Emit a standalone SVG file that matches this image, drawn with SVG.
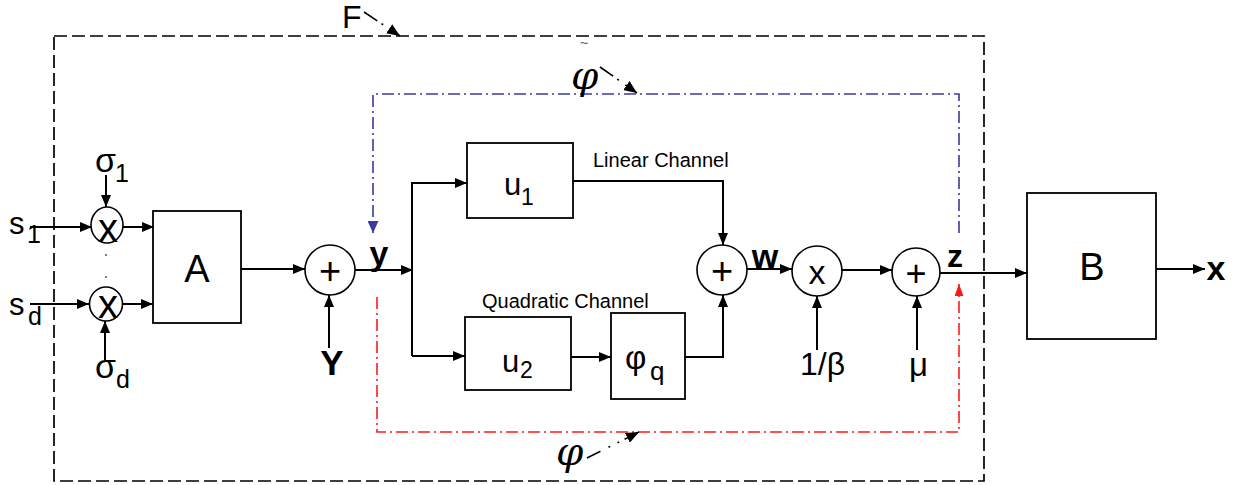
<svg xmlns="http://www.w3.org/2000/svg" width="1240" height="485" viewBox="0 0 1240 485">
<style>
.bx{fill:#fff;stroke:#000;stroke-width:1.8}
.cr{fill:#fff;stroke:#000;stroke-width:1.6}
.ln{fill:none;stroke:#000;stroke-width:2}
.t{font-family:"Liberation Sans",Arial,sans-serif;fill:#000}
.b{font-weight:bold}
.g{font-family:"DejaVu Serif","Liberation Serif",serif;font-style:italic;fill:#000}
.ld{fill:none;stroke:#000;stroke-width:1.6}
</style>
<defs>
<marker id="ah" viewBox="0 0 12 10" refX="12" refY="5" markerWidth="12" markerHeight="10" markerUnits="userSpaceOnUse" orient="auto"><path d="M0,0 L12,5 L0,10 z" fill="#000"/></marker>
<marker id="ahs" viewBox="0 0 13 11" refX="13" refY="5.5" markerWidth="13" markerHeight="11" markerUnits="userSpaceOnUse" orient="auto"><path d="M0,0 L13,5.5 L0,11 z" fill="#000"/></marker>
<marker id="ahb" viewBox="0 0 12 11" refX="12" refY="5.5" markerWidth="12" markerHeight="11" markerUnits="userSpaceOnUse" orient="auto"><path d="M0,0 L12,5.5 L0,11 z" fill="#3a3aa0"/></marker>
<marker id="ahr" viewBox="0 0 12 9" refX="12" refY="4.5" markerWidth="12" markerHeight="9" markerUnits="userSpaceOnUse" orient="auto"><path d="M0,0 L12,4.5 L0,9 z" fill="#ff1a1a"/></marker>
</defs>
<rect width="1240" height="485" fill="#fff"/>

<g id="frameF">
<rect x="54" y="36" width="930" height="445" fill="none" stroke="#000" stroke-width="1.7" stroke-dasharray="13 5"/>
<text class="t" x="342" y="28" font-size="32">F</text>
<path class="ld" d="M364,12 L400,36" stroke-dasharray="16 5 2 8 40" marker-end="url(#ahs)"/>
</g>

<g id="loopTop">
<path d="M959,233 L959,94 L373,94 L373,233" fill="none" stroke="#3a3aa0" stroke-width="1.6" stroke-dasharray="12 4 2 4" marker-end="url(#ahb)"/>
<text x="584" y="48" font-family="Liberation Sans,sans-serif" font-size="14" fill="#555" text-anchor="middle">~</text>
<text class="g" x="571" y="89" font-size="39">φ</text>
<path class="ld" d="M600,67 L637,93" stroke-dasharray="16 5 2 8 40" marker-end="url(#ahs)"/>
</g>

<g id="loopBottom">
<path d="M377,297 L377,432 L959,432 L959,284" fill="none" stroke="#ff1a1a" stroke-width="1.6" stroke-dasharray="12 4 2 4" marker-end="url(#ahr)"/>
<text class="g" x="556" y="465" font-size="39">φ</text>
<path class="ld" d="M587,458 L639,432" stroke-dasharray="15 9 2 8 2 6 60" marker-end="url(#ahs)"/>
</g>

<g id="connectors">
<path class="ln" d="M30,227 L92,227" marker-end="url(#ah)"/>
<path class="ln" d="M30,304 L89,304" marker-end="url(#ah)"/>
<path class="ln" d="M106,175 L106,207" marker-end="url(#ah)"/>
<path class="ln" d="M105,360 L105,321" marker-end="url(#ah)"/>
<path class="ln" d="M123,227 L154,227" marker-end="url(#ah)"/>
<path class="ln" d="M122,304 L153,304" marker-end="url(#ah)"/>
<path class="ln" d="M241,269 L305,269" marker-end="url(#ah)"/>
<path class="ln" d="M329,348 L329,295" marker-end="url(#ah)"/>
<path class="ln" d="M355,270 L413,270" marker-end="url(#ah)"/>
<path class="ln" d="M412,356 L412,183 L467,183" marker-end="url(#ah)"/>
<path class="ln" d="M412,356 L465,356" marker-end="url(#ah)"/>
<path class="ln" d="M573,181 L723,181 L723,245" marker-end="url(#ah)"/>
<path class="ln" d="M571,357 L611,357" marker-end="url(#ah)"/>
<path class="ln" d="M685,357 L723,357 L723,295" marker-end="url(#ah)"/>
<path class="ln" d="M747,269 L792,269" marker-end="url(#ah)"/>
<path class="ln" d="M817,350 L817,296" marker-end="url(#ah)"/>
<path class="ln" d="M842,270 L892,270" marker-end="url(#ah)"/>
<path class="ln" d="M917,350 L917,296" marker-end="url(#ah)"/>
<path class="ln" d="M940,273 L1027,273" marker-end="url(#ah)"/>
<path class="ln" d="M1156,269 L1205,269" marker-end="url(#ah)"/>
<circle cx="106" cy="255" r="1" fill="#555"/>
<circle cx="106" cy="277" r="1" fill="#555"/>
</g>

<g id="inputs">
<text class="t" x="9" y="234" font-size="31">s</text>
<text class="t" x="27" y="243" font-size="25">1</text>
<text class="t" x="9" y="315" font-size="31">s</text>
<text class="t" x="28" y="325" font-size="25">d</text>
<text class="t" x="95" y="172" font-size="34">σ</text>
<text class="t" x="115" y="182" font-size="25">1</text>
<text class="t" x="95" y="378" font-size="34">σ</text>
<text class="t" x="116" y="388" font-size="25">d</text>
</g>

<g id="mult1">
<ellipse class="cr" cx="107" cy="225" rx="16" ry="18"/>
<text class="t" x="108" y="242" font-size="40" text-anchor="middle">x</text>
</g>
<g id="multd">
<ellipse class="cr" cx="106" cy="304" rx="16.5" ry="17"/>
<text class="t" x="108" y="318" font-size="40" text-anchor="middle">x</text>
</g>

<g id="blockA">
<rect class="bx" x="153" y="211" width="88" height="112"/>
<text class="t" x="197" y="282" font-size="38" text-anchor="middle">A</text>
</g>

<g id="sum1">
<circle class="cr" cx="330" cy="270" r="25"/>
<text class="t" x="330" y="284" font-size="38" text-anchor="middle">+</text>
<text class="t b" x="332" y="375" font-size="35" text-anchor="middle">Y</text>
<text class="t b" x="379" y="265" font-size="34" text-anchor="middle">y</text>
</g>

<g id="blockU1">
<rect class="bx" x="467" y="143" width="106" height="75"/>
<text class="t" x="504" y="195" font-size="31">u</text>
<text class="t" x="521" y="205" font-size="23">1</text>
<text class="t" x="593" y="167" font-size="20">Linear Channel</text>
</g>

<g id="blockU2">
<rect class="bx" x="465" y="317" width="106" height="73"/>
<text class="t" x="502" y="372" font-size="31">u</text>
<text class="t" x="520" y="378" font-size="23">2</text>
<text class="t" x="482" y="308" font-size="20">Quadratic Channel</text>
</g>

<g id="blockPhiQ">
<rect class="bx" x="611" y="313" width="74" height="86"/>
<text class="t" x="625" y="369" font-size="33">φ</text>
<text class="t" x="650" y="380" font-size="26">q</text>
</g>

<g id="sum2">
<circle class="cr" cx="722" cy="270" r="25"/>
<text class="t" x="722" y="284" font-size="38" text-anchor="middle">+</text>
<text class="t b" x="765" y="268" font-size="34" text-anchor="middle">w</text>
</g>

<g id="mult2">
<circle class="cr" cx="817" cy="271" r="25"/>
<text class="t" x="817" y="284" font-size="34" text-anchor="middle">x</text>
<text class="t" x="800" y="375" font-size="32">1/β</text>
</g>

<g id="sum3">
<circle class="cr" cx="916" cy="272" r="24"/>
<text class="t" x="916" y="286" font-size="36" text-anchor="middle">+</text>
<text class="t" x="909" y="376" font-size="33">μ</text>
<text class="t b" x="955" y="267" font-size="32" text-anchor="middle">z</text>
</g>

<g id="blockB">
<rect class="bx" x="1027" y="193" width="129" height="146"/>
<text class="t" x="1092" y="280" font-size="38" text-anchor="middle">B</text>
<text class="t b" x="1216" y="280" font-size="34" text-anchor="middle">x</text>
</g>
</svg>
